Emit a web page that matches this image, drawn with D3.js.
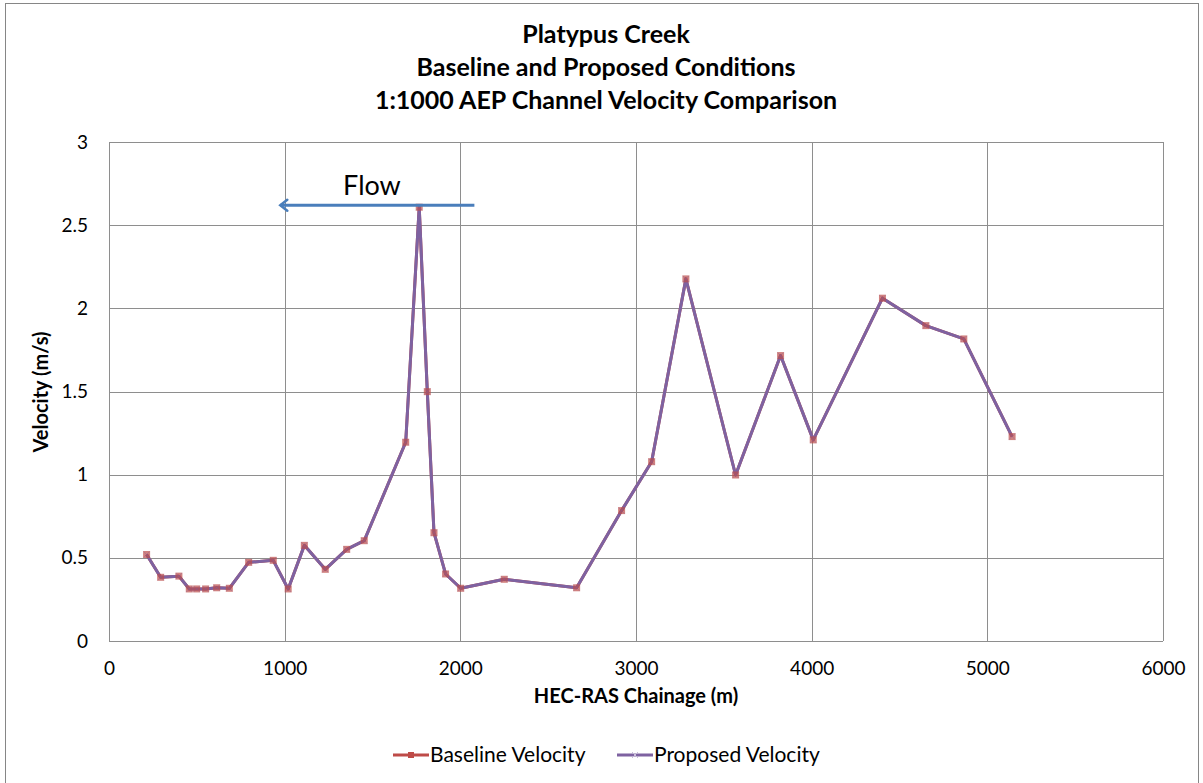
<!DOCTYPE html>
<html>
<head>
<meta charset="utf-8">
<script src="https://cdn.jsdelivr.net/npm/d3@7"></script>
<style>
  html, body { margin: 0; padding: 0; background: #fff; }
  svg { display: block; font-family: Lato, "Open Sans", sans-serif; }
</style>
</head>
<body>
<svg id="chart" width="1203" height="783"></svg>
<script>
// ---- Data ----
const titleLines = ["Platypus Creek", "Baseline and Proposed Conditions", "1:1000 AEP Channel Velocity Comparison"];
const chainage = [214, 294, 398, 457, 499, 550, 613, 685, 795, 935, 1020, 1112, 1231, 1353, 1453, 1689, 1766, 1812, 1850, 1916, 2002, 2250, 2662, 2918, 3089, 3284, 3567, 3823, 4009, 4403, 4650, 4866, 5141];
const baselineVelocity = [0.52, 0.383, 0.39, 0.313, 0.313, 0.313, 0.32, 0.317, 0.473, 0.485, 0.313, 0.575, 0.431, 0.551, 0.603, 1.195, 2.608, 1.499, 0.651, 0.403, 0.317, 0.371, 0.32, 0.784, 1.078, 2.177, 0.998, 1.716, 1.209, 2.061, 1.896, 1.816, 1.229];
const proposedVelocity = [0.52, 0.383, 0.39, 0.313, 0.313, 0.313, 0.32, 0.317, 0.473, 0.485, 0.313, 0.575, 0.431, 0.551, 0.603, 1.195, 2.608, 1.499, 0.651, 0.403, 0.317, 0.371, 0.32, 0.784, 1.078, 2.177, 0.998, 1.716, 1.209, 2.061, 1.896, 1.816, 1.229];
const xTicks = [0, 1000, 2000, 3000, 4000, 5000, 6000];
const yTicks = [0, 0.5, 1, 1.5, 2, 2.5, 3];
const seriesNames = ["Baseline Velocity", "Proposed Velocity"];
const flowLabel = "Flow";
const flowArrow = { from: [2080, 2.62], to: [975, 2.62] };
const xTitle = "HEC-RAS Chainage (m)";
const yTitle = "Velocity (m/s)";

// ---- Layout ----
const svg = d3.select("#chart");
const plot = { left: 109, right: 1163, top: 142, bottom: 641 };
const colors = { baseline: "#BE4B48", proposed: "#7E62A1", grid: "#8E8E8E", arrow: "#4A7EBB" };

const x = d3.scaleLinear().domain([0, 6000]).range([plot.left, plot.right]);
const y = d3.scaleLinear().domain([0, 3]).range([plot.bottom, plot.top]);

// Outer chart border
svg.append("rect").attr("x", 5.5).attr("y", 3.5).attr("width", 1193).attr("height", 800)
  .attr("fill", "#fff").attr("stroke", "#868686").attr("stroke-width", 1);

// Title
const title = svg.append("g").attr("font-weight", "bold").attr("font-size", 25).attr("fill", "#000").attr("text-anchor", "middle");
titleLines.forEach((t, i) => {
  title.append("text").attr("x", 606).attr("y", 43 + i * 33).text(t);
});

// Gridlines
const grid = svg.append("g").attr("stroke", colors.grid).attr("stroke-width", 1).attr("shape-rendering", "crispEdges");
yTicks.forEach(v => {
  grid.append("line").attr("x1", plot.left).attr("x2", plot.right).attr("y1", Math.round(y(v)) + 0.5).attr("y2", Math.round(y(v)) + 0.5);
});
xTicks.forEach(v => {
  grid.append("line").attr("y1", plot.top).attr("y2", plot.bottom).attr("x1", Math.round(x(v)) + 0.5).attr("x2", Math.round(x(v)) + 0.5);
});

// Axes (labels via d3 axes, lines hidden)
const xAxis = svg.append("g").attr("transform", `translate(0,${plot.bottom})`)
  .call(d3.axisBottom(x).tickValues(xTicks).tickSize(0).tickPadding(21).tickFormat(d3.format("d")));
const yAxis = svg.append("g").attr("transform", `translate(${plot.left},0)`)
  .call(d3.axisLeft(y).tickValues(yTicks).tickSize(0).tickPadding(21).tickFormat(d => String(d)));
[xAxis, yAxis].forEach(a => {
  a.select(".domain").remove();
  a.selectAll("text").attr("font-size", 19).attr("fill", "#000").attr("font-family", "Lato, 'Open Sans', sans-serif");
});

// Axis titles
svg.append("text").attr("x", 636).attr("y", 703).attr("text-anchor", "middle")
  .attr("font-weight", "bold").attr("font-size", 20).text(xTitle);
svg.append("text").attr("transform", "translate(48,392) rotate(-90)").attr("text-anchor", "middle")
  .attr("font-weight", "bold").attr("font-size", 20).text(yTitle);

// Lines
const line = d3.line().x((d, i) => x(chainage[i])).y(d => y(d));
svg.append("path").datum(baselineVelocity).attr("d", line).attr("fill", "none")
  .attr("stroke", colors.baseline).attr("stroke-width", 3).attr("stroke-linejoin", "round");
svg.append("path").datum(proposedVelocity).attr("d", line).attr("fill", "none")
  .attr("stroke", colors.proposed).attr("stroke-width", 3).attr("stroke-linejoin", "round");

// Markers
svg.append("g").selectAll("rect").data(baselineVelocity).join("rect")
  .attr("x", (d, i) => x(chainage[i]) - 3.5).attr("y", d => y(d) - 3.5)
  .attr("width", 7).attr("height", 7).attr("fill", colors.baseline).attr("fill-opacity", 0.7);
const xm = svg.append("g").attr("stroke", colors.proposed).attr("stroke-width", 1);
proposedVelocity.forEach((d, i) => {
  const cx = x(chainage[i]), cy = y(d);
  xm.append("path").attr("d", `M${cx - 3},${cy - 3}L${cx + 3},${cy + 3}M${cx - 3},${cy + 3}L${cx + 3},${cy - 3}`).attr("stroke-opacity", 0.35);
});

// Flow arrow
svg.append("defs").append("marker").attr("id", "arrowHead").attr("viewBox", "0 0 12 14")
  .attr("refX", 10).attr("refY", 7).attr("markerWidth", 12).attr("markerHeight", 14)
  .attr("markerUnits", "userSpaceOnUse").attr("orient", "auto")
  .append("path").attr("d", "M3,1.5 L10,7 L3,12.5").attr("fill", "none")
  .attr("stroke", colors.arrow).attr("stroke-width", 2.5).attr("stroke-linecap", "round");
svg.append("line")
  .attr("x1", x(flowArrow.from[0])).attr("y1", y(flowArrow.from[1]))
  .attr("x2", x(flowArrow.to[0])).attr("y2", y(flowArrow.to[1]))
  .attr("stroke", colors.arrow).attr("stroke-width", 3).attr("marker-end", "url(#arrowHead)");
svg.append("text").attr("x", x(1497)).attr("y", 195).attr("text-anchor", "middle")
  .attr("font-size", 27).attr("fill", "#000").text(flowLabel);

// Legend
const legend = svg.append("g").attr("font-size", 21).attr("fill", "#000");
const legendItems = [
  { name: seriesNames[0], color: colors.baseline, x0: 393, marker: "square" },
  { name: seriesNames[1], color: colors.proposed, x0: 617, marker: "x" }
];
legendItems.forEach(it => {
  const ly = 755;
  legend.append("line").attr("x1", it.x0).attr("x2", it.x0 + 36).attr("y1", ly).attr("y2", ly)
    .attr("stroke", it.color).attr("stroke-width", 3);
  if (it.marker === "square") {
    legend.append("rect").attr("x", it.x0 + 15).attr("y", ly - 3).attr("width", 6).attr("height", 6).attr("fill", it.color);
  } else {
    const cx = it.x0 + 18;
    legend.append("path").attr("d", `M${cx - 3},${ly - 3}L${cx + 3},${ly + 3}M${cx - 3},${ly + 3}L${cx + 3},${ly - 3}`)
      .attr("stroke", "#C9BEDA").attr("stroke-width", 1);
  }
  legend.append("text").attr("x", it.x0 + 37).attr("y", ly + 7).text(it.name);
});
</script>
</body>
</html>
